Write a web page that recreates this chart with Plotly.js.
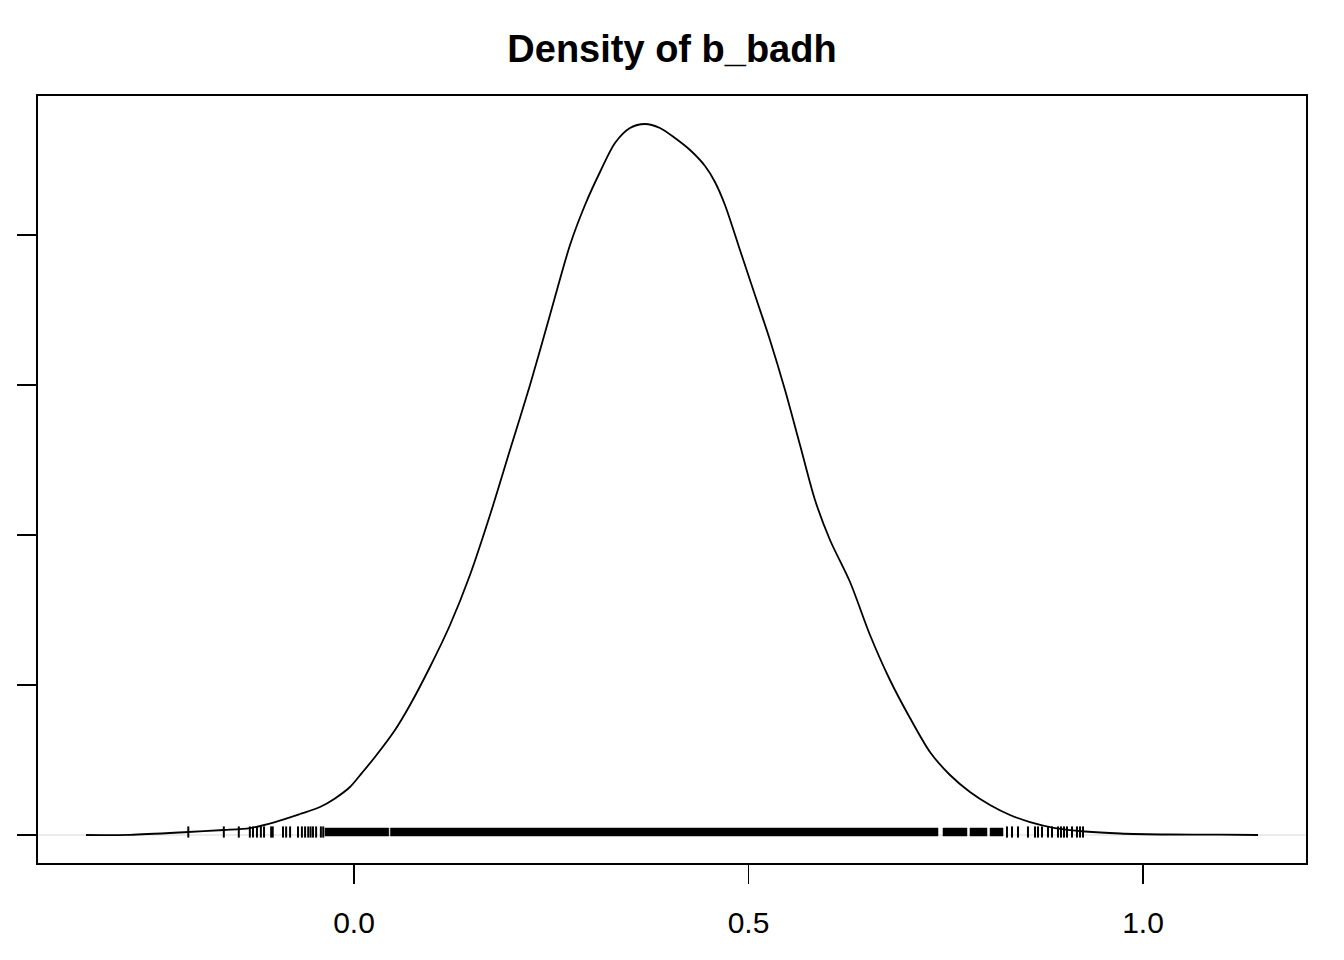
<!DOCTYPE html>
<html>
<head>
<meta charset="utf-8">
<script src="https://cdn.plot.ly/plotly-3.0.1.min.js"></script>
<style>html,body{margin:0;padding:0;background:#fff;}#chart{width:1344px;height:960px;}</style>
</head>
<body>
<div id="chart"></div>
<script>
// Density curve of b_badh
const densityX = [-0.3397,-0.2839,-0.2104,-0.1648,-0.1318,-0.1001,-0.0684,-0.0431,-0.0241,-0.0051,0.0101,0.0266,0.0520,0.0710,0.0963,0.1217,0.1470,0.1724,0.1977,0.2231,0.2484,0.2738,0.2928,0.3118,0.3308,0.3498,0.3688,0.3878,0.4068,0.4259,0.4449,0.4575,0.4702,0.4892,0.5082,0.5272,0.5463,0.5653,0.5843,0.6033,0.6287,0.6540,0.6793,0.7047,0.7300,0.7554,0.7807,0.8061,0.8314,0.8568,0.8885,0.9265,0.9709,1.0342,1.0976,1.1458];
const densityY = [0,0.0007,0.010,0.0167,0.0233,0.0433,0.070,0.0933,0.122,0.160,0.207,0.260,0.350,0.4333,0.560,0.700,0.8667,1.0667,1.2833,1.500,1.7333,1.9667,2.100,2.210,2.3067,2.3567,2.370,2.3567,2.3233,2.2833,2.230,2.1767,2.100,1.950,1.800,1.650,1.4833,1.300,1.1167,0.9833,0.8433,0.6667,0.5167,0.390,0.2767,0.200,0.1433,0.100,0.0667,0.0433,0.0233,0.0117,0.005,0.0017,0.001,0];

// Rug: isolated draws in the tails
const rugSingles = [-0.210,-0.165,-0.146,-0.132,-0.128,-0.123,-0.118,-0.114,-0.105,-0.103,-0.090,-0.086,-0.081,-0.071,-0.066,-0.062,-0.058,-0.055,-0.052,-0.048,-0.042,-0.039,
  0.8276,0.8340,0.8416,0.8542,0.8631,0.8669,0.8720,0.8796,0.8847,0.8923,0.8961,0.8999,0.9037,0.9100,0.9163,0.9202,0.9240];
// Rug: ranges where the draws are so dense the ticks merge
const rugBandStart = [-0.0368,0.0462,0.7465,0.7807,0.8061];
const rugBandEnd   = [0.0441,0.7402,0.7769,0.8023,0.8226];

const xTickVals = [0, 0.5, 1];
const xTickText = ['0.0', '0.5', '1.0'];
const yTickVals = [0, 0.5, 1, 1.5, 2];
const chartTitle = 'Density of b_badh';

const xRange = [-0.4005, 1.2066];
const yRange = [-0.0933, 2.4633];
const rugLow = -0.0033, rugHigh = 0.0233;

// Build band rectangles
const bandX = [], bandY = [];
for (let i = 0; i < rugBandStart.length; i++) {
  bandX.push(rugBandStart[i], rugBandEnd[i], rugBandEnd[i], rugBandStart[i], rugBandStart[i], null);
  bandY.push(rugLow, rugLow, rugHigh, rugHigh, rugLow, null);
}

const traces = [
  {x: xRange, y: [0, 0], mode: 'lines', line: {color: '#d9d9d9', width: 1}, hoverinfo: 'skip', showlegend: false},
  {x: bandX, y: bandY, mode: 'lines', fill: 'toself', fillcolor: '#000', line: {color: '#000', width: 0.5}, hoverinfo: 'skip', showlegend: false},
  {x: rugSingles, y: rugSingles.map(() => (rugLow + rugHigh) / 2), mode: 'markers',
   marker: {symbol: 'line-ns', size: 8, line: {color: '#000', width: 2}}, hoverinfo: 'skip', showlegend: false},
  {x: densityX, y: densityY, mode: 'lines', line: {color: '#000', width: 1.8, shape: 'spline', smoothing: 0.8}, showlegend: false}
];

const layout = {
  width: 1344, height: 960,
  paper_bgcolor: '#fff', plot_bgcolor: '#fff',
  margin: {l: 38, r: 38, t: 96, b: 97},
  font: {family: 'Liberation Sans, Arial, sans-serif', color: '#000'},
  title: {text: '<b>' + chartTitle + '</b>', font: {size: 38, family: 'Liberation Sans, Arial, sans-serif', color: '#000'},
          x: 0.5, xanchor: 'center', y: 1 - 49/960, yanchor: 'middle', yref: 'container'},
  xaxis: {range: xRange, tickvals: xTickVals, ticktext: xTickText, ticks: 'outside', ticklen: 19, tickwidth: 1.8, tickcolor: '#000',
          showline: true, linecolor: '#000', linewidth: 1.8, mirror: true, showgrid: false, zeroline: false,
          tickfont: {size: 30, color: '#000'}, ticklabelstandoff: 13},
  yaxis: {range: yRange, tickvals: yTickVals, ticks: 'outside', ticklen: 19, tickwidth: 1.8, tickcolor: '#000',
          showticklabels: false, showline: true, linecolor: '#000', linewidth: 1.8, mirror: true, showgrid: false, zeroline: false}
};

Plotly.newPlot('chart', traces, layout, {displayModeBar: false, staticPlot: true});
</script>
</body>
</html>
